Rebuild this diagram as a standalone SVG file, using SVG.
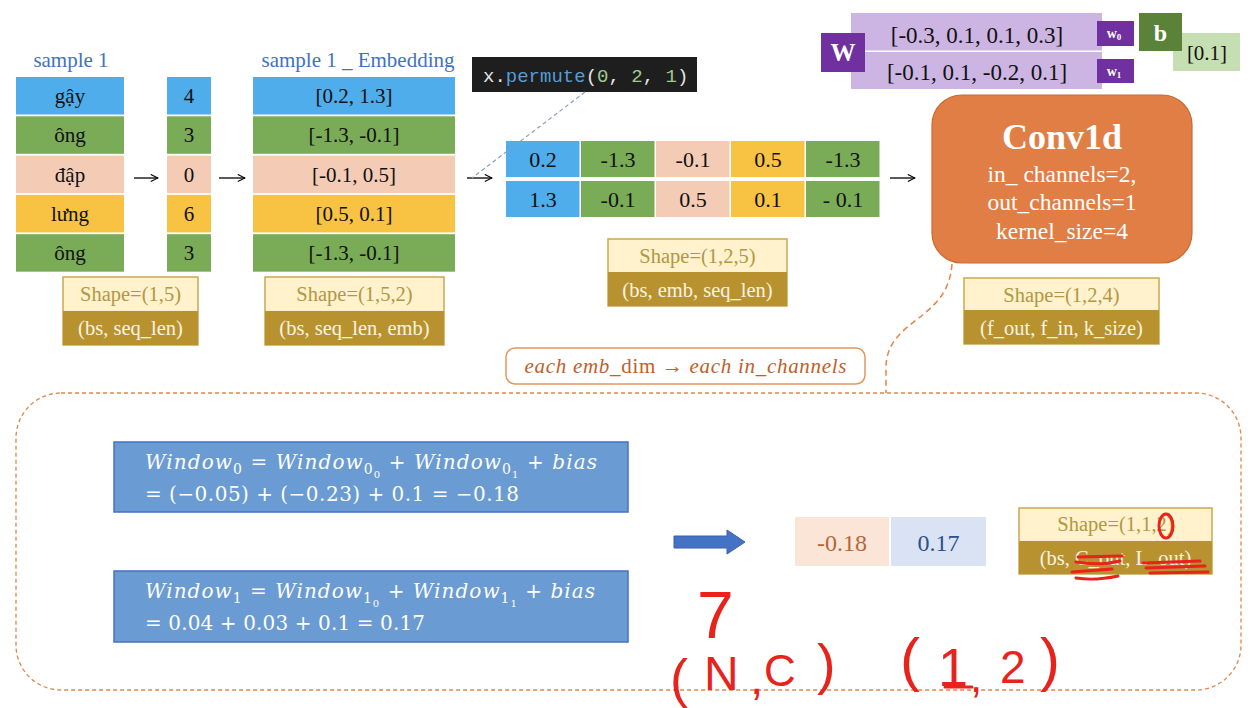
<svg xmlns="http://www.w3.org/2000/svg" width="1257" height="708" viewBox="0 0 1257 708">
<defs>
<marker id="arr" viewBox="0 0 10 10" refX="9" refY="5" markerWidth="9" markerHeight="9" markerUnits="userSpaceOnUse" orient="auto">
<path d="M1 1 L9 5 L1 9" fill="none" stroke="#000" stroke-width="1.2"/>
</marker>
<style>
text{font-family:"Liberation Serif","DejaVu Serif","Times New Roman",serif;}
.lbl{font-size:21px;fill:#3F72C2;text-anchor:middle}
.cell{font-size:21px;fill:#111;text-anchor:middle}
.viet{font-family:"Liberation Serif","DejaVu Serif",serif;}
.mx{font-size:22px;fill:#111;text-anchor:middle}
.blue{fill:#4EADEA}.green{fill:#7AAB57}.peach{fill:#F4CCB6}.yellow{fill:#F8C343}
.sh1{fill:#FFF2CC;stroke:#C9A850;stroke-width:1.5}
.sh2{fill:#B8922F}
.sht1{font-size:20.5px;fill:#B39743;text-anchor:middle}
.sht2{font-size:20.5px;fill:#FAF3E0;text-anchor:middle}
.conn{stroke:#000;stroke-width:1.3;fill:none;marker-end:url(#arr)}
.fbox{fill:#6A9BD2;stroke:#4472C4;stroke-width:1.5}
.math{font-family:"DejaVu Serif","Liberation Serif",serif;font-size:20px;fill:#fff}
.it{font-style:italic}
.red{fill:#E8231C;font-family:"Liberation Sans",Arial,sans-serif}
.rs{stroke:#E8231C;stroke-width:3;fill:none;stroke-linecap:round}
.wrow{fill:#CDB5E3}
.wt{font-size:23px;fill:#111;text-anchor:middle}
.pur{fill:#7030A0}
.wl{font-weight:bold;fill:#fff;text-anchor:middle}
</style>
</defs>
<rect width="1257" height="708" fill="#fff"/>

<!-- sample 1 tokens -->
<g id="sample1">
<text class="lbl" x="71" y="67">sample 1</text>
<rect class="blue" x="16" y="77" width="108" height="37.5"/>
<rect class="green" x="16" y="116.3" width="108" height="37.5"/>
<rect class="peach" x="16" y="155.6" width="108" height="37.5"/>
<rect class="yellow" x="16" y="194.9" width="108" height="37.5"/>
<rect class="green" x="16" y="234.2" width="108" height="37.5"/>
<text class="cell viet" x="70" y="103">gậy</text>
<text class="cell viet" x="70" y="142">ông</text>
<text class="cell viet" x="70" y="181.5">đập</text>
<text class="cell viet" x="70" y="221">lưng</text>
<text class="cell viet" x="70" y="260">ông</text>
</g>

<g id="indices">
<rect class="blue" x="167" y="77" width="44" height="37.5"/>
<rect class="green" x="167" y="116.3" width="44" height="37.5"/>
<rect class="peach" x="167" y="155.6" width="44" height="37.5"/>
<rect class="yellow" x="167" y="194.9" width="44" height="37.5"/>
<rect class="green" x="167" y="234.2" width="44" height="37.5"/>
<text class="cell" x="189" y="103">4</text>
<text class="cell" x="189" y="142">3</text>
<text class="cell" x="189" y="181.5">0</text>
<text class="cell" x="189" y="221">6</text>
<text class="cell" x="189" y="260">3</text>
</g>

<g id="shape1">
<rect class="sh1" x="63" y="277" width="135" height="68"/>
<rect class="sh2" x="63" y="311" width="135" height="34"/>
<text class="sht1" x="130.5" y="301">Shape=(1,5)</text>
<text class="sht2" x="130.5" y="335">(bs, seq_len)</text>
</g>

<g id="embedding">
<text class="lbl" x="358" y="67">sample 1 _ Embedding</text>
<rect class="blue" x="253" y="77" width="202" height="37.5"/>
<rect class="green" x="253" y="116.3" width="202" height="37.5"/>
<rect class="peach" x="253" y="155.6" width="202" height="37.5"/>
<rect class="yellow" x="253" y="194.9" width="202" height="37.5"/>
<rect class="green" x="253" y="234.2" width="202" height="37.5"/>
<text class="cell" x="354" y="103">[0.2, 1.3]</text>
<text class="cell" x="354" y="142">[-1.3, -0.1]</text>
<text class="cell" x="354" y="181.5">[-0.1, 0.5]</text>
<text class="cell" x="354" y="221">[0.5, 0.1]</text>
<text class="cell" x="354" y="260">[-1.3, -0.1]</text>
</g>

<g id="shape2">
<rect class="sh1" x="265" y="277" width="179" height="68"/>
<rect class="sh2" x="265" y="311" width="179" height="34"/>
<text class="sht1" x="354.5" y="301">Shape=(1,5,2)</text>
<text class="sht2" x="354.5" y="335">(bs, seq_len, emb)</text>
</g>

<g id="permute">
<rect x="472" y="57" width="225" height="35" fill="#1E1E1E"/>
<text x="483" y="82" font-size="19" style="font-family:'Liberation Mono',monospace" fill="#E6E6E6">x.<tspan fill="#569CD6">permute</tspan>(<tspan fill="#A3C98F">0</tspan>, <tspan fill="#A3C98F">2</tspan>, <tspan fill="#A3C98F">1</tspan>)</text>
</g>

<g id="permuted">
<rect class="blue" x="506" y="141" width="73.5" height="36"/>
<rect class="green" x="581" y="141" width="73.5" height="36"/>
<rect class="peach" x="656" y="141" width="73.5" height="36"/>
<rect class="yellow" x="731" y="141" width="73.5" height="36"/>
<rect class="green" x="806" y="141" width="73.5" height="36"/>
<rect class="blue" x="506" y="181" width="73.5" height="36"/>
<rect class="green" x="581" y="181" width="73.5" height="36"/>
<rect class="peach" x="656" y="181" width="73.5" height="36"/>
<rect class="yellow" x="731" y="181" width="73.5" height="36"/>
<rect class="green" x="806" y="181" width="73.5" height="36"/>
<text class="mx" x="543" y="167">0.2</text>
<text class="mx" x="618" y="167">-1.3</text>
<text class="mx" x="693" y="167">-0.1</text>
<text class="mx" x="768" y="167">0.5</text>
<text class="mx" x="843" y="167">-1.3</text>
<text class="mx" x="543" y="207">1.3</text>
<text class="mx" x="618" y="207">-0.1</text>
<text class="mx" x="693" y="207">0.5</text>
<text class="mx" x="768" y="207">0.1</text>
<text class="mx" x="843" y="207">- 0.1</text>
</g>

<g id="shape3">
<rect class="sh1" x="608" y="239" width="179" height="67"/>
<rect class="sh2" x="608" y="272" width="179" height="34"/>
<text class="sht1" x="697.5" y="263">Shape=(1,2,5)</text>
<text class="sht2" x="697.5" y="297">(bs, emb, seq_len)</text>
</g>

<g id="weights">
<rect class="wrow" x="851" y="13" width="251" height="37.5"/>
<rect class="wrow" x="851" y="52" width="251" height="37"/>
<text class="wt" x="977" y="43">[-0.3, 0.1, 0.1, 0.3]</text>
<text class="wt" x="977" y="80">[-0.1, 0.1, -0.2, 0.1]</text>
<rect class="pur" x="821" y="33" width="44" height="39"/>
<text class="wl" x="843" y="61" font-size="25">W</text>
<rect class="pur" x="1097" y="21" width="37" height="25"/>
<text class="wl" x="1114" y="38" font-size="14">w<tspan font-size="9" dy="2">0</tspan></text>
<rect class="pur" x="1097" y="59" width="37" height="24"/>
<text class="wl" x="1114" y="76" font-size="14">w<tspan font-size="9" dy="2">1</tspan></text>
</g>

<g id="bias">
<rect x="1173" y="33" width="67" height="38" fill="#C5DFB3"/>
<rect x="1139" y="13" width="43" height="38" fill="#5A8238"/>
<text class="wl" x="1160.5" y="41" font-size="24">b</text>
<text x="1207" y="60" font-size="21" fill="#111" text-anchor="middle">[0.1]</text>
</g>

<g id="conv1d">
<rect x="932" y="95" width="260" height="168" rx="30" fill="#E07E45" stroke="#C96A32" stroke-width="1.2"/>
<text x="1062" y="149" font-size="36" font-weight="bold" fill="#fff" text-anchor="middle">Conv1d</text>
<text x="1062" y="182" font-size="23.5" fill="#fff" text-anchor="middle">in_ channels=2,</text>
<text x="1062" y="210" font-size="23.5" fill="#fff" text-anchor="middle">out_channels=1</text>
<text x="1062" y="238.5" font-size="23.5" fill="#fff" text-anchor="middle">kernel_size=4</text>
</g>

<g id="shape4">
<rect class="sh1" x="964" y="278" width="195" height="66"/>
<rect class="sh2" x="964" y="310" width="195" height="34"/>
<text class="sht1" x="1061.5" y="302">Shape=(1,2,4)</text>
<text class="sht2" x="1061.5" y="335">(f_out, f_in, k_size)</text>
</g>

<g id="note">
<rect x="506" y="348" width="359" height="36" rx="9" fill="#fff" stroke="#E59660" stroke-width="1.5"/>
<text x="685.5" y="373" font-size="21" fill="#C0602A" text-anchor="middle" textLength="322" lengthAdjust="spacing"><tspan class="it">each emb_</tspan>dim → <tspan class="it">each in_channels</tspan></text>
</g>

<g id="detail-frame">
<rect x="16" y="393" width="1225" height="297" rx="45" fill="none" stroke="#E0864A" stroke-width="1.3" stroke-dasharray="4 3"/>
</g>

<g id="window0">
<rect class="fbox" x="114" y="442" width="514" height="70"/>
<text class="math" x="145" y="469" textLength="452" lengthAdjust="spacing"><tspan class="it">Window</tspan><tspan dy="5" font-size="14">0</tspan><tspan dy="-5"> = </tspan><tspan class="it">Window</tspan><tspan dy="5" font-size="14">0</tspan><tspan dy="4" font-size="10">0</tspan><tspan dy="-9"> + </tspan><tspan class="it">Window</tspan><tspan dy="5" font-size="14">0</tspan><tspan dy="4" font-size="10">1</tspan><tspan dy="-9"> + </tspan><tspan class="it">bias</tspan></text>
<text class="math" x="145" y="501" textLength="374" lengthAdjust="spacing">= (−0.05) + (−0.23) + 0.1 = −0.18</text>
</g>

<g id="window1">
<rect class="fbox" x="114" y="571" width="514" height="71"/>
<text class="math" x="145" y="598" textLength="450" lengthAdjust="spacing"><tspan class="it">Window</tspan><tspan dy="5" font-size="14">1</tspan><tspan dy="-5"> = </tspan><tspan class="it">Window</tspan><tspan dy="5" font-size="14">1</tspan><tspan dy="4" font-size="10">0</tspan><tspan dy="-9"> + </tspan><tspan class="it">Window</tspan><tspan dy="5" font-size="14">1</tspan><tspan dy="4" font-size="10">1</tspan><tspan dy="-9"> + </tspan><tspan class="it">bias</tspan></text>
<text class="math" x="145" y="630" textLength="280" lengthAdjust="spacing">= 0.04 + 0.03 + 0.1 = 0.17</text>
</g>

<g id="output">
<rect x="795" y="517" width="94" height="49" fill="#FBE5D6"/>
<rect x="891" y="517" width="95" height="49" fill="#DAE3F3"/>
<text x="842" y="551" font-size="24" fill="#B5653A" text-anchor="middle">-0.18</text>
<text x="938.5" y="551" font-size="24" fill="#2F4E8C" text-anchor="middle">0.17</text>
</g>

<g id="shape5">
<rect class="sh1" x="1019" y="508" width="193" height="66"/>
<rect class="sh2" x="1019" y="541" width="193" height="33"/>
<text class="sht1" x="1115.5" y="531">Shape=(1,1,2)</text>
<text class="sht2" x="1115.5" y="565">(bs, C_out, L_out)</text>
</g>

<g id="connectors">
<line class="conn" x1="134" y1="178" x2="158" y2="178"/>
<line class="conn" x1="219" y1="178" x2="245" y2="178"/>
<line class="conn" x1="467" y1="178" x2="492" y2="178"/>
<line class="conn" x1="890" y1="178" x2="915" y2="178"/>
<path d="M585 92 L472 178" fill="none" stroke="#8D9DBB" stroke-width="1.2" stroke-dasharray="4 3"/>
<path d="M952 264 C948 322 886 318 886 368 L886 393" fill="none" stroke="#E0864A" stroke-width="1.5" stroke-dasharray="6 4"/>
<path d="M674 536 L727 536 L727 530 L745 542 L727 554 L727 548 L674 548 Z" fill="#4472C4" stroke="#3A60A8" stroke-width="1"/>
</g>

<g id="annotations">
<ellipse class="rs" cx="1166" cy="526" rx="7" ry="12"/>
<path class="rs" d="M1078 557 L1122 556 M1076 562 Q1100 566 1120 561 M1072 572 L1112 569 M1076 578 Q1095 581 1118 576 M1143 563 L1200 561 M1146 568 L1205 566 M1150 573 L1208 572"/>
<text class="red" x="697" y="638" font-size="66">7</text>
<text class="red" font-size="54"><tspan x="670" y="697">(</tspan><tspan x="704" y="690" font-size="48">N</tspan><tspan x="750" y="694" font-size="48">,</tspan><tspan x="764" y="686" font-size="44">C</tspan><tspan x="817" y="683" font-size="56">)</tspan></text>
<text class="red" font-size="60"><tspan x="900" y="680">(</tspan><tspan x="938" y="686" font-size="54">1</tspan><tspan x="970" y="692" font-size="44">,</tspan><tspan x="1000" y="683" font-size="46">2</tspan><tspan x="1040" y="680">)</tspan></text>
<path class="rs" d="M945 687 L972 687"/>
</g>
</svg>
